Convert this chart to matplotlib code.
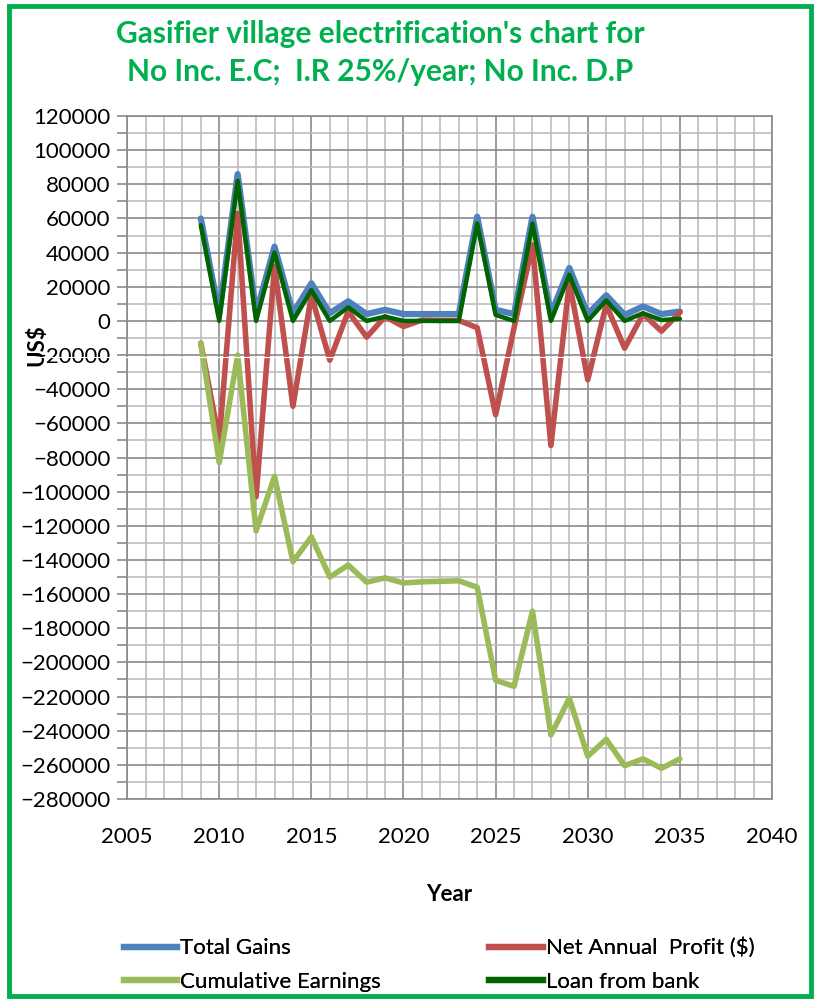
import matplotlib.pyplot as plt
from matplotlib.ticker import MultipleLocator
from matplotlib.lines import Line2D
from matplotlib.patches import Rectangle

plt.rcParams['font.family'] = ['Lato', 'DejaVu Sans']

years = list(range(2009, 2036))
total_gains = [60000, 4000, 86000, 4500, 43500, 4500, 22000, 4500, 11500, 4000,
               6500, 4000, 4000, 4000, 4000, 61000, 6500, 4000, 61000, 4000,
               31000, 4000, 15000, 3500, 8500, 4000, 5500]
net_profit = [-13000, -70000, 63000, -103000, 32000, -50000, 15000, -23000, 5500, -9500,
              2500, -3300, 500, 300, 300, -4000, -55000, -4000, 44500, -73000,
              22500, -34500, 9500, -16000, 4000, -6000, 5000]
cumulative = [-13000, -83000, -20000, -123000, -91000, -141000, -126500, -150000, -143000, -153000,
              -150500, -153500, -152800, -152500, -152200, -156000, -210500, -214000, -170000, -242500,
              -221000, -255000, -245000, -260500, -256500, -262000, -256500]
loan = [56000, 0, 82000, 0, 40000, 0, 18000, 0, 8000, 0,
        2500, 0, 0, 0, 0, 57000, 3500, 0, 57000, 0,
        27000, 0, 12000, 0, 4500, 500, 1200]

title = "Gasifier village electrification's chart for\nNo Inc. E.C;  I.R 25%/year; No Inc. D.P"
legend_labels = ['Total Gains', 'Net Annual  Profit ($)', 'Cumulative Earnings', 'Loan from bank']
colors = ['#4F81BD', '#C0504D', '#9BBB59', '#006400']

fig = plt.figure(figsize=(8.2, 10.01), dpi=100)
ax = fig.add_axes([0.155, 0.2018, 0.7865, 0.6823])

ax.plot(years, total_gains, color=colors[0], lw=4.5, solid_capstyle='round', zorder=3)
ax.plot(years, net_profit, color=colors[1], lw=4.0, solid_capstyle='round', zorder=4)
ax.plot(years, cumulative, color=colors[2], lw=4.0, solid_capstyle='round', zorder=5)
ax.plot(years, loan, color=colors[3], lw=3.2, solid_capstyle='round', zorder=6)

ax.set_xlim(2005, 2040)
ax.set_ylim(-280000, 120000)
ax.xaxis.set_major_locator(MultipleLocator(5))
ax.xaxis.set_minor_locator(MultipleLocator(1))
ax.yaxis.set_major_locator(MultipleLocator(20000))
ax.yaxis.set_minor_locator(MultipleLocator(10000))

ax.grid(which='major', color='#8A8A8A', lw=1.2, zorder=1)
ax.grid(which='minor', color='#BDBDBD', lw=1.2, zorder=0)
for s in ax.spines.values():
    s.set_color('#8A8A8A')
    s.set_linewidth(1.2)

ax.tick_params(axis='x', which='both', length=0, pad=20, labelsize=16)
ax.tick_params(axis='y', which='both', direction='out', length=7, color='#8A8A8A',
               width=1.2, labelsize=16, pad=5)

ax.set_xlabel('Year', fontsize=16, fontweight='bold', labelpad=27)
fig.text(0.045, 0.655, 'US$', rotation=90, fontsize=16, fontweight='bold',
         ha='center', va='center')

fig.text(0.464, 0.947, title, ha='center', va='center', fontsize=21.5,
         fontweight='bold', color='#00B050', linespacing=1.45)

# two legend columns, each placed on its own
handles = [Line2D([0], [0], color=c, lw=4.5) for c in colors]
for idx, x0 in [([0, 2], 0.140), ([1, 3], 0.586)]:
    leg = fig.legend([handles[i] for i in idx], [legend_labels[i] for i in idx],
                     loc='lower left', bbox_to_anchor=(x0, 0.0),
                     frameon=False, fontsize=16, handlelength=2.4, handletextpad=0.15,
                     labelspacing=0.62, borderaxespad=0.0)
    fig.add_artist(leg)

# outer green frame
fig.patches.append(Rectangle((0.011, 0.005), 0.978, 0.989, transform=fig.transFigure,
                             fill=False, edgecolor='#00B050', lw=3.5, zorder=11))
fig.add_artist(Line2D([0, 1], [0.643, 0.643], transform=fig.transFigure,
                      color='white', lw=0.8, zorder=10))

fig.savefig('out.png', dpi=100)
